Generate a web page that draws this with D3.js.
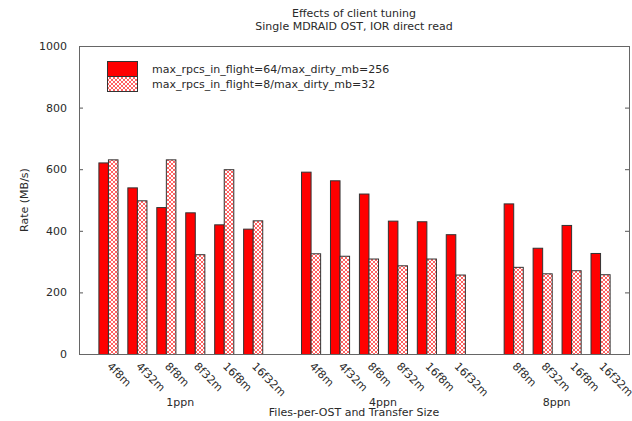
<!DOCTYPE html>
<html>
<head>
<meta charset="utf-8">
<script src="https://cdn.jsdelivr.net/npm/d3@7"></script>
<style>
  html, body { margin: 0; padding: 0; background: #fff; }
  svg { display: block; }
  text { font-family: "DejaVu Sans", sans-serif; fill: #2a2a2a; }
</style>
</head>
<body>
<svg id="chart" width="632" height="421"></svg>
<script>
// Read rates (MB/s) for each files-per-OST / transfer size case, by processes per node
const groupNames = ["1ppn", "4ppn", "8ppn"];
const groupOf = [0, 0, 0, 0, 0, 0, 1, 1, 1, 1, 1, 1, 2, 2, 2, 2];
const categories = ["4f8m", "4f32m", "8f8m", "8f32m", "16f8m", "16f32m",
                    "4f8m", "4f32m", "8f8m", "8f32m", "16f8m", "16f32m",
                    "8f8m", "8f32m", "16f8m", "16f32m"];
const seriesNames = ["max_rpcs_in_flight=64/max_dirty_mb=256",
                     "max_rpcs_in_flight=8/max_dirty_mb=32"];
const tunedRate   = [622, 541, 477, 460, 421, 407, 592, 564, 521, 433, 431, 389, 489, 345, 419, 328];
const defaultRate = [632, 499, 632, 324, 600, 434, 327, 319, 310, 288, 310, 258, 283, 262, 272, 259];
const yTicks = [0, 200, 400, 600, 800, 1000];

const svg = d3.select("#chart");
const plotL = 79, plotR = 629, plotT = 46, plotB = 354;

// Each cluster occupies one slot; an empty slot separates the groups
const slot = categories.map((_, i) => i + groupOf[i]);
const x = d3.scaleLinear().domain([-1, 18]).range([plotL, plotR]);
const y = d3.scaleLinear().domain([0, 1000]).range([plotB, plotT]);
const bw = 0.33;

// Cross-hatch fill for the second series
const defs = svg.append("defs");
const pat = defs.append("pattern")
  .attr("id", "hatch").attr("patternUnits", "userSpaceOnUse")
  .attr("width", 4).attr("height", 4);
pat.append("rect").attr("width", 4).attr("height", 4).attr("fill", "#fff");
pat.append("path").attr("d", "M0,0L4,4M4,0L0,4")
  .attr("stroke", "#ff5050").attr("stroke-width", 0.9).attr("fill", "none");

// Title
svg.append("text").attr("x", (plotL + plotR) / 2).attr("y", 17)
  .attr("text-anchor", "middle").attr("font-size", 11).text("Effects of client tuning");
svg.append("text").attr("x", (plotL + plotR) / 2).attr("y", 30)
  .attr("text-anchor", "middle").attr("font-size", 11).text("Single MDRAID OST, IOR direct read");

// Y axis labels and inward ticks on both sides
const yAxis = svg.append("g").attr("transform", `translate(${plotL},0)`)
  .call(d3.axisLeft(y).tickValues(yTicks).tickSize(-4).tickPadding(12)
    .tickFormat(d3.format("d")));
yAxis.select(".domain").remove();
yAxis.selectAll("line").attr("stroke", "#555");
yAxis.selectAll("text").attr("font-size", 11).attr("fill", "#2a2a2a")
  .style("font-family", "DejaVu Sans, sans-serif");

const yAxisR = svg.append("g").attr("transform", `translate(${plotR},0)`)
  .call(d3.axisRight(y).tickValues(yTicks).tickSize(-4).tickFormat(""));
yAxisR.select(".domain").remove();
yAxisR.selectAll("line").attr("stroke", "#555");

svg.append("text")
  .attr("transform", `translate(28,${(plotT + plotB) / 2}) rotate(-90)`)
  .attr("text-anchor", "middle").attr("font-size", 11).text("Rate (MB/s)");

// Bars
const bars = svg.append("g");
bars.selectAll("rect.tuned").data(tunedRate).join("rect")
  .attr("class", "tuned")
  .attr("x", (d, i) => x(slot[i] - bw) + 0.5)
  .attr("y", d => y(d) + 0.5)
  .attr("width", (d, i) => x(slot[i]) - x(slot[i] - bw))
  .attr("height", d => y(0) - y(d))
  .attr("fill", "#ff0000").attr("stroke", "#333").attr("stroke-width", 1);
bars.selectAll("rect.default").data(defaultRate).join("rect")
  .attr("class", "default")
  .attr("x", (d, i) => x(slot[i]) + 0.5)
  .attr("y", d => y(d) + 0.5)
  .attr("width", (d, i) => x(slot[i] + bw) - x(slot[i]))
  .attr("height", d => y(0) - y(d))
  .attr("fill", "url(#hatch)").attr("stroke", "#333").attr("stroke-width", 1);

// Plot frame
svg.append("rect").attr("x", plotL + 0.5).attr("y", plotT + 0.5)
  .attr("width", plotR - plotL).attr("height", plotB - plotT)
  .attr("fill", "none").attr("stroke", "#666").attr("stroke-width", 1);

// Category labels, slanted
const xAxis = svg.append("g").attr("transform", `translate(0,${plotB})`)
  .call(d3.axisBottom(x).tickValues(slot).tickSize(0)
    .tickFormat((d, i) => categories[i]));
xAxis.select(".domain").remove();
xAxis.selectAll("text")
  .attr("font-size", 11).attr("fill", "#2a2a2a")
  .style("font-family", "DejaVu Sans, sans-serif")
  .attr("text-anchor", "start").attr("dy", null).attr("y", 0)
  .attr("transform", "translate(-2,13) rotate(45)");

// Group labels
groupNames.forEach((g, gi) => {
  const s = slot.filter((_, i) => groupOf[i] === gi);
  svg.append("text").attr("x", x((d3.min(s) + d3.max(s)) / 2)).attr("y", 406)
    .attr("text-anchor", "middle").attr("font-size", 11).text(g);
});

svg.append("text").attr("x", (plotL + plotR) / 2).attr("y", 416)
  .attr("text-anchor", "middle").attr("font-size", 11).text("Files-per-OST and Transfer Size");

// Legend
const legend = svg.append("g");
const fills = ["#ff0000", "url(#hatch)"];
seriesNames.forEach((name, i) => {
  legend.append("rect").attr("x", 107.5).attr("y", 61.5 + i * 15)
    .attr("width", 30).attr("height", 15)
    .attr("fill", fills[i]).attr("stroke", "#333");
  legend.append("text").attr("x", 152).attr("y", 73 + i * 15)
    .attr("font-size", 11).text(name);
});
</script>
</body>
</html>
